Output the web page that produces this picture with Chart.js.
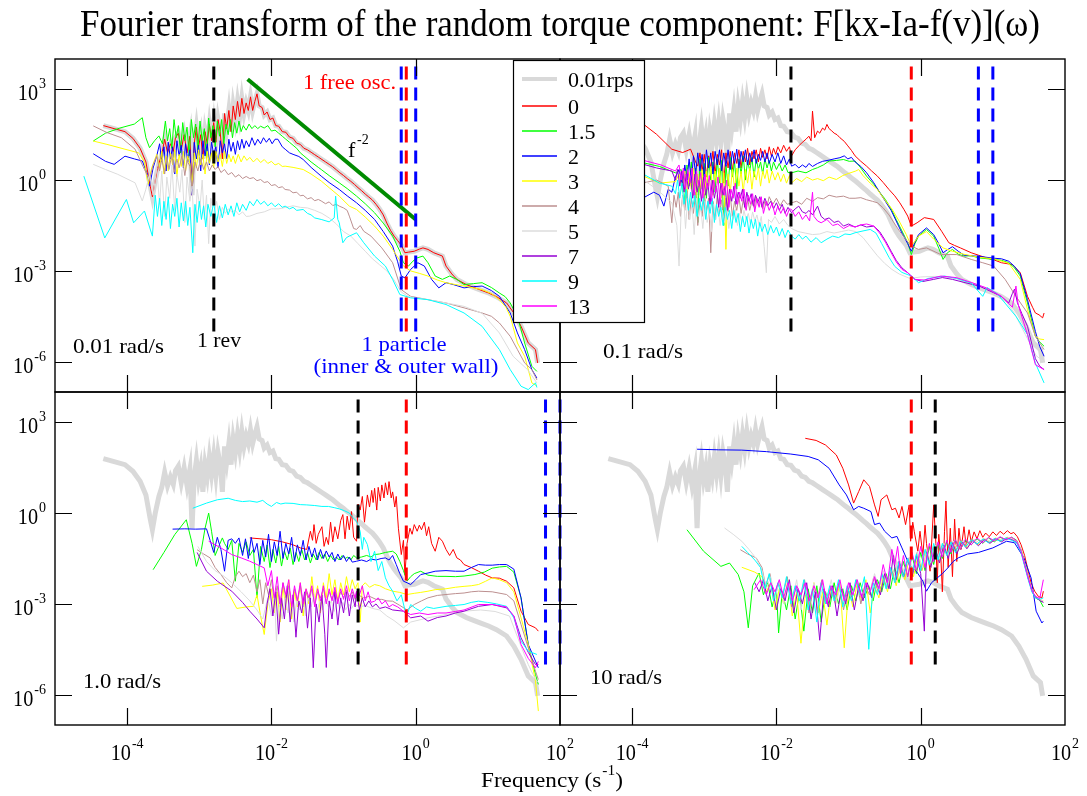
<!DOCTYPE html>
<html>
<head>
<meta charset="utf-8">
<script src="https://cdn.jsdelivr.net/npm/chart.js@4.4.0/dist/chart.umd.min.js"></script>
<style>
body { margin: 0; background: #fff; }
#wrap { position: relative; width: 1087px; height: 796px; }
#wrap canvas { position: absolute; left: 0; top: 0; }
</style>
</head>
<body>
<div id="wrap">
  <canvas id="cTL" width="1087" height="796"></canvas>
  <canvas id="cTR" width="1087" height="796"></canvas>
  <canvas id="cBL" width="1087" height="796"></canvas>
  <canvas id="cBR" width="1087" height="796"></canvas>
</div>
<script>
// axes
const FREQ_MIN = 1e-5, FREQ_MAX = 1e2;
const AMP_MIN = 1e-7, AMP_MAX = 1e4;
const X_TICKS = [1e-4, 1e-2, 1e0];
const X_LABELS = [1e-4, 1e-2, 1e0, 1e2];
const Y_TICKS = [1e3, 1e0, 1e-3, 1e-6];

// series (legend order)
const SERIES = ['0.01rps', '0', '1.5', '2', '3', '4', '5', '7', '9', '13'];
const COLORS = ['#d9d9d9', '#ff0000', '#00ff00', '#0000ff', '#ffff00', '#bc8f8f', '#dcdcdc', '#9400d3', '#00ffff', '#ff00ff'];
const RATES = ['0.01 rad/s', '0.1 rad/s', '1.0 rad/s', '10 rad/s'];

// vertical markers (Hz)
const REV_FREQ = [1.59e-3, 1.59e-2, 0.159, 1.59];
const OSC_FREQ = 0.74;
const WALL_FREQ = [[0.63, 1.0], [6.3, 10], [63, 100], [630, 1000]];
const MARK_SPAN = [1e-5, 1e4];
const F2_LINE = [-2.33, 3.33, 0.0, -1.30];

// curves as log10(freq), log10(amplitude) pairs
// reference curve 0.01 rad/s (also the "0" curve of the first panel)
const ref_curve = [-4.33,1.80, -4.18,1.70, -4.03,1.60, -3.92,1.38, -3.82,1.05, -3.74,0.60, -3.68,-0.20, -3.65,-0.55, -3.61,0.00, -3.56,0.55, -3.52,0.85, -3.48,1.35, -3.44,0.90, -3.40,1.20, -3.36,0.95, -3.33,1.40, -3.29,1.55, -3.25,1.00, -3.21,1.50, -3.17,0.90, -3.13,1.45, -3.10,-0.50, -3.07,1.20, -3.04,1.75, -3.01,1.10, -2.98,1.50, -2.95,0.70, -2.92,1.60, -2.89,1.20, -2.86,1.85, -2.83,1.30, -2.80,1.90, -2.77,1.25, -2.74,2.00, -2.71,1.60, -2.68,0.70, -2.65,2.20, -2.62,1.70, -2.59,2.30, -2.56,1.60, -2.53,2.45, -2.50,2.00, -2.47,2.60, -2.44,2.10, -2.41,2.70, -2.38,2.20, -2.35,2.55, -2.32,2.30, -2.29,2.75, -2.26,2.30, -2.23,2.60, -2.20,2.85, -2.17,2.45, -2.13,2.40, -2.10,2.15, -2.06,2.25, -2.02,2.00, -1.98,2.05, -1.94,1.80, -1.90,1.78, -1.85,1.60, -1.80,1.58, -1.75,1.42, -1.70,1.38, -1.65,1.22, -1.60,1.18, -1.55,1.05, -1.50,1.00, -1.45,0.92, -1.40,0.84, -1.35,0.76, -1.30,0.68, -1.25,0.60, -1.20,0.52, -1.15,0.44, -1.10,0.34, -1.05,0.24, -1.00,0.15, -0.95,0.05, -0.90,-0.04, -0.85,-0.14, -0.80,-0.25, -0.75,-0.35, -0.70,-0.46, -0.65,-0.56, -0.60,-0.66, -0.55,-0.80, -0.50,-0.96, -0.45,-1.15, -0.40,-1.42, -0.35,-1.66, -0.30,-1.85, -0.25,-2.00, -0.20,-2.15, -0.15,-2.40, -0.10,-2.38, -0.02,-2.35, 0.05,-2.28, 0.10,-2.24, 0.17,-2.29, 0.25,-2.40, 0.37,-2.51, 0.42,-2.84, 0.50,-3.10, 0.57,-3.28, 0.70,-3.45, 0.82,-3.56, 0.92,-3.65, 1.01,-3.73, 1.12,-3.85, 1.26,-4.06, 1.36,-4.39, 1.46,-4.83, 1.56,-5.38, 1.66,-5.60, 1.69,-6.04];

// 0.01 rad/s
const tl_green = [-4.47,1.29, -4.30,1.55, -4.10,1.72, -3.90,1.85, -3.79,2.06, -3.74,1.40, -3.69,1.07, -3.62,1.30, -3.56,1.46, -3.51,1.20, -3.47,1.95, -3.44,1.30, -3.41,1.70, -3.38,1.05, -3.35,2.00, -3.32,1.40, -3.29,1.80, -3.26,0.90, -3.23,1.90, -3.20,1.30, -3.17,1.75, -3.14,0.80, -3.11,2.00, -3.08,1.40, -3.05,1.85, -3.02,1.00, -2.99,1.95, -2.96,1.30, -2.93,1.70, -2.90,0.70, -2.87,2.05, -2.84,1.40, -2.81,1.80, -2.78,1.10, -2.75,1.95, -2.72,1.45, -2.69,2.00, -2.66,1.20, -2.63,1.85, -2.60,1.50, -2.57,2.00, -2.54,1.40, -2.51,1.90, -2.48,1.55, -2.45,1.95, -2.42,1.60, -2.39,1.80, -2.35,1.65, -2.31,1.85, -2.27,1.70, -2.23,1.80, -2.19,1.70, -2.15,1.78, -2.10,1.72, -2.05,1.80, -2.00,1.62, -1.95,1.65, -1.90,1.55, -1.85,1.45, -1.80,1.35, -1.75,1.25, -1.70,1.15, -1.65,1.05, -1.60,0.90, -1.55,0.80, -1.45,0.60, -1.35,0.42, -1.31,0.35, -1.20,0.15, -1.06,-0.09, -0.95,-0.28, -0.82,-0.53, -0.70,-0.78, -0.57,-1.08, -0.45,-1.42, -0.32,-1.85, -0.22,-2.35, -0.17,-2.73, -0.10,-2.84, -0.04,-2.68, 0.02,-2.57, 0.10,-2.51, 0.17,-2.73, 0.27,-3.17, 0.37,-3.28, 0.47,-3.17, 0.57,-3.28, 0.67,-3.45, 0.80,-3.42, 0.92,-3.39, 1.05,-3.55, 1.16,-3.73, 1.24,-3.85, 1.31,-4.06, 1.41,-4.50, 1.51,-5.38, 1.61,-6.15, 1.68,-6.32];
const tl_blue = [-4.47,0.87, -4.30,0.62, -4.18,0.52, -4.03,0.79, -3.90,0.70, -3.79,0.63, -3.72,0.20, -3.69,-0.20, -3.64,0.40, -3.59,0.80, -3.55,1.20, -3.52,0.60, -3.49,1.10, -3.46,0.30, -3.43,1.25, -3.40,0.70, -3.37,1.10, -3.34,0.20, -3.31,1.30, -3.28,0.80, -3.25,1.15, -3.22,0.40, -3.19,1.20, -3.16,0.60, -3.13,1.00, -3.10,-0.50, -3.07,1.25, -3.04,0.70, -3.01,1.15, -2.98,0.30, -2.95,1.30, -2.92,0.80, -2.89,1.20, -2.86,0.50, -2.83,1.25, -2.80,0.85, -2.77,1.10, -2.74,0.40, -2.71,1.30, -2.68,0.90, -2.65,1.20, -2.62,0.70, -2.59,1.35, -2.56,0.95, -2.53,1.25, -2.50,0.85, -2.47,1.30, -2.44,1.00, -2.41,1.35, -2.38,1.05, -2.35,1.30, -2.31,1.10, -2.27,1.40, -2.23,1.15, -2.19,1.35, -2.15,1.20, -2.11,1.40, -2.07,1.25, -2.03,1.38, -1.99,1.20, -1.95,1.35, -1.91,1.35, -1.85,1.10, -1.80,1.00, -1.75,0.90, -1.70,0.85, -1.62,0.78, -1.56,0.68, -1.45,0.42, -1.31,0.13, -1.20,-0.08, -1.06,-0.31, -0.95,-0.52, -0.82,-0.75, -0.70,-1.00, -0.57,-1.30, -0.45,-1.70, -0.32,-2.18, -0.25,-2.70, -0.20,-3.17, -0.15,-3.23, -0.07,-2.95, 0.03,-2.73, 0.12,-2.84, 0.22,-3.28, 0.32,-3.56, 0.42,-3.39, 0.52,-3.45, 0.67,-3.56, 0.80,-3.52, 0.92,-3.50, 1.05,-3.65, 1.16,-3.84, 1.31,-4.39, 1.41,-5.05, 1.51,-5.60, 1.61,-6.26, 1.68,-6.54];
const tl_yellow = [-4.47,1.29, -4.28,1.18, -4.03,1.02, -3.84,0.90, -3.76,0.60, -3.71,-0.14, -3.66,0.40, -3.59,0.85, -3.55,0.40, -3.52,0.95, -3.49,0.20, -3.46,0.80, -3.43,0.30, -3.40,0.90, -3.37,0.50, -3.34,1.00, -3.31,0.10, -3.28,0.85, -3.25,0.45, -3.22,0.95, -3.19,0.30, -3.16,0.80, -3.13,0.55, -3.10,-0.20, -3.07,0.90, -3.04,0.40, -3.01,1.00, -2.98,0.50, -2.95,0.85, -2.92,0.20, -2.89,0.95, -2.86,0.55, -2.83,0.90, -2.80,0.40, -2.77,0.95, -2.74,0.60, -2.71,0.85, -2.68,0.45, -2.65,0.95, -2.62,0.55, -2.59,0.85, -2.56,0.60, -2.53,0.80, -2.50,0.55, -2.46,0.85, -2.42,0.60, -2.38,0.80, -2.34,0.65, -2.30,0.75, -2.25,0.60, -2.20,0.72, -2.15,0.58, -2.10,0.68, -2.05,0.55, -2.00,0.62, -1.95,0.50, -1.90,0.55, -1.85,0.45, -1.81,0.46, -1.70,0.42, -1.56,0.35, -1.45,0.20, -1.31,-0.03, -1.20,-0.25, -1.06,-0.53, -0.92,-0.86, -0.82,-0.97, -0.70,-1.22, -0.57,-1.52, -0.45,-1.85, -0.32,-2.29, -0.17,-2.84, -0.07,-3.00, 0.05,-3.08, 0.17,-3.17, 0.30,-3.30, 0.42,-3.39, 0.55,-3.45, 0.67,-3.50, 0.80,-3.56, 0.92,-3.62, 1.05,-3.75, 1.16,-3.95, 1.25,-4.20, 1.31,-4.50, 1.41,-5.38, 1.51,-5.82, 1.61,-6.70, 1.68,-6.80];
const tl_brown = [-4.47,1.79, -4.28,1.57, -4.08,1.40, -3.89,1.02, -3.76,0.35, -3.69,0.02, -3.64,0.50, -3.59,0.80, -3.55,0.30, -3.52,0.70, -3.48,0.20, -3.45,0.75, -3.42,0.35, -3.38,0.85, -3.35,0.25, -3.31,0.70, -3.28,0.40, -3.24,0.80, -3.20,0.15, -3.17,0.65, -3.13,0.45, -3.10,-0.30, -3.06,0.60, -3.02,0.30, -2.98,0.70, -2.94,0.35, -2.90,0.60, -2.86,0.30, -2.82,0.50, -2.78,0.35, -2.74,0.45, -2.70,0.25, -2.65,0.35, -2.60,0.18, -2.55,0.25, -2.50,0.10, -2.45,0.18, -2.40,0.05, -2.35,0.12, -2.30,0.05, -2.25,0.08, -2.20,-0.02, -2.15,0.02, -2.10,-0.08, -2.05,-0.05, -2.00,-0.18, -1.95,-0.15, -1.90,-0.25, -1.85,-0.22, -1.81,-0.31, -1.75,-0.33, -1.70,-0.42, -1.65,-0.40, -1.60,-0.52, -1.56,-0.50, -1.50,-0.62, -1.45,-0.58, -1.40,-0.68, -1.35,-0.64, -1.31,-0.69, -1.25,-0.78, -1.20,-0.72, -1.15,-0.84, -1.10,-0.80, -1.06,-0.86, -1.00,-0.92, -0.95,-1.00, -0.92,-1.19, -0.86,-1.60, -0.82,-1.63, -0.77,-1.50, -0.72,-1.69, -0.62,-1.85, -0.47,-2.24, -0.32,-2.73, -0.20,-3.62, -0.07,-3.84, 0.17,-3.95, 0.42,-4.06, 0.67,-4.22, 0.92,-4.39, 1.05,-4.50, 1.16,-4.72, 1.31,-5.16, 1.41,-5.60, 1.51,-6.04, 1.61,-6.26, 1.68,-6.60];
const tl_lgrey = [-4.47,0.52, -4.30,0.35, -4.13,0.19, -3.89,-0.09, -3.79,-0.69, -3.74,-0.30, -3.69,0.20, -3.64,-0.50, -3.59,0.40, -3.55,-0.80, -3.52,0.30, -3.48,-1.20, -3.45,0.10, -3.41,-0.60, -3.38,0.50, -3.34,-1.00, -3.31,0.20, -3.27,-0.40, -3.24,0.35, -3.20,-1.40, -3.17,0.10, -3.13,-0.70, -3.10,-0.20, -3.06,-2.18, -3.03,-0.30, -2.99,-0.90, -2.96,0.00, -2.93,-1.30, -2.90,-0.50, -2.87,-2.10, -2.84,-0.60, -2.80,-1.20, -2.76,-0.70, -2.72,-1.30, -2.68,-0.90, -2.64,-1.10, -2.60,-0.95, -2.55,-1.05, -2.50,-1.00, -2.45,-1.15, -2.40,-1.05, -2.35,-1.20, -2.30,-1.19, -2.20,-1.10, -2.10,-1.05, -2.00,-0.95, -1.90,-0.95, -1.80,-0.90, -1.70,-0.85, -1.60,-0.90, -1.50,-0.92, -1.40,-1.00, -1.30,-1.10, -1.20,-1.25, -1.10,-1.45, -1.00,-1.70, -0.90,-1.85, -0.80,-2.10, -0.70,-2.35, -0.60,-2.60, -0.50,-2.80, -0.40,-3.00, -0.30,-3.30, -0.20,-3.70, -0.10,-3.85, 0.17,-3.95, 0.67,-4.17, 0.92,-4.40, 1.16,-5.05, 1.35,-5.82, 1.55,-6.26, 1.68,-6.70];
const tl_cyan = [-4.60,0.13, -4.31,-1.91, -4.01,-0.64, -3.91,-1.41, -3.76,-1.02, -3.65,-1.85, -3.61,-0.50, -3.58,-1.20, -3.55,-0.60, -3.52,-1.50, -3.49,-0.70, -3.46,-1.30, -3.43,-0.55, -3.40,-1.60, -3.37,-0.80, -3.34,-1.20, -3.31,-0.60, -3.28,-1.55, -3.25,-0.75, -3.22,-1.35, -3.19,-0.70, -3.16,-1.50, -3.13,-0.90, -3.09,-2.40, -3.06,-0.80, -3.03,-1.40, -3.00,-0.70, -2.97,-1.30, -2.94,-0.85, -2.91,-1.55, -2.88,-0.80, -2.84,-1.20, -2.80,-0.75, -2.76,-1.40, -2.72,-0.85, -2.68,-1.25, -2.64,-0.80, -2.60,-1.15, -2.56,-0.85, -2.52,-1.20, -2.48,-0.75, -2.44,-1.05, -2.40,-0.80, -2.35,-1.00, -2.30,-0.70, -2.25,-0.85, -2.20,-0.64, -2.15,-0.80, -2.10,-0.70, -2.05,-0.85, -2.00,-0.75, -1.95,-0.88, -1.90,-0.78, -1.85,-0.90, -1.81,-0.86, -1.75,-0.95, -1.70,-0.90, -1.65,-1.00, -1.56,-0.97, -1.50,-1.10, -1.45,-1.15, -1.40,-1.25, -1.31,-1.30, -1.20,-1.38, -1.13,-1.25, -1.11,-0.53, -1.08,-1.30, -1.06,-1.41, -1.01,-2.07, -0.96,-1.90, -0.92,-1.85, -0.82,-1.74, -0.72,-2.07, -0.57,-2.51, -0.42,-2.84, -0.32,-3.28, -0.22,-3.78, -0.07,-3.89, 0.17,-3.95, 0.42,-4.11, 0.67,-4.39, 0.92,-4.83, 1.16,-5.60, 1.31,-6.26, 1.46,-6.81, 1.56,-6.92, 1.66,-6.70, 1.68,-6.85];

// 0.1 rad/s
const tr_red = [-4.10,2.00, -3.84,1.84, -3.66,1.51, -3.45,1.02, -3.30,0.91, -3.19,1.02, -3.12,0.60, -3.09,0.46, -3.06,0.90, -3.03,0.30, -3.00,0.85, -2.97,0.10, -2.94,0.80, -2.91,0.40, -2.88,0.95, -2.85,0.20, -2.82,0.85, -2.79,0.50, -2.76,1.00, -2.73,-0.10, -2.70,0.90, -2.67,0.40, -2.64,0.95, -2.61,0.30, -2.58,0.90, -2.55,0.55, -2.52,1.00, -2.49,0.40, -2.46,0.95, -2.43,0.60, -2.40,1.05, -2.37,0.50, -2.34,0.95, -2.31,0.70, -2.28,1.00, -2.25,0.60, -2.22,1.05, -2.19,0.75, -2.16,1.00, -2.13,0.70, -2.10,1.10, -2.07,0.80, -2.04,1.05, -2.01,0.85, -1.98,1.10, -1.94,0.90, -1.90,1.15, -1.86,0.95, -1.82,1.10, -1.79,0.80, -1.74,1.00, -1.69,1.13, -1.64,1.25, -1.59,1.35, -1.55,1.45, -1.52,1.30, -1.50,2.28, -1.47,1.40, -1.43,1.62, -1.40,1.55, -1.36,1.72, -1.33,1.65, -1.30,1.84, -1.27,1.70, -1.24,1.64, -1.20,1.55, -1.16,1.50, -1.12,1.40, -1.06,1.28, -1.01,1.13, -0.96,0.98, -0.91,0.80, -0.83,0.62, -0.75,0.46, -0.68,0.30, -0.60,0.13, -0.52,-0.08, -0.44,-0.31, -0.36,-0.52, -0.29,-0.75, -0.23,-0.98, -0.18,-1.19, -0.13,-1.52, -0.05,-1.41, 0.05,-1.24, 0.18,-1.30, 0.29,-1.69, 0.39,-2.07, 0.47,-2.16, 0.55,-2.24, 0.70,-2.40, 0.80,-2.48, 0.91,-2.57, 1.02,-2.64, 1.12,-2.73, 1.27,-2.79, 1.38,-3.06, 1.48,-3.84, 1.55,-4.20, 1.59,-4.39, 1.64,-4.45, 1.69,-4.55, 1.71,-4.39];
const tr_green = [-4.10,0.60, -3.84,0.57, -3.62,0.45, -3.40,0.24, -3.32,0.35, -3.27,-0.75, -3.24,0.50, -3.21,-0.20, -3.18,0.60, -3.15,-0.50, -3.12,0.40, -3.09,-1.40, -3.06,0.70, -3.03,-0.30, -3.00,0.55, -2.97,-0.60, -2.94,0.75, -2.91,0.00, -2.88,0.60, -2.85,-0.40, -2.82,0.70, -2.79,-0.10, -2.76,0.65, -2.73,-1.50, -2.70,0.50, -2.67,-0.20, -2.64,0.75, -2.61,0.10, -2.58,0.60, -2.55,-0.30, -2.52,0.70, -2.49,0.20, -2.46,0.80, -2.43,0.00, -2.40,0.65, -2.37,0.30, -2.34,0.75, -2.31,0.10, -2.28,0.70, -2.25,0.35, -2.22,0.60, -2.19,0.20, -2.16,0.70, -2.13,0.40, -2.10,0.65, -2.07,0.30, -2.04,0.60, -2.00,0.35, -1.96,0.55, -1.92,0.30, -1.88,0.50, -1.84,0.25, -1.79,0.24, -1.70,0.30, -1.59,0.24, -1.50,0.35, -1.43,0.41, -1.35,0.50, -1.27,0.63, -1.17,0.65, -1.07,0.68, -0.99,0.62, -0.91,0.63, -0.83,0.40, -0.75,0.13, -0.65,-0.14, -0.57,-0.40, -0.49,-0.64, -0.41,-0.95, -0.34,-1.30, -0.26,-1.68, -0.18,-2.07, -0.13,-2.46, -0.08,-2.10, -0.03,-1.85, 0.08,-1.63, 0.18,-1.85, 0.25,-2.25, 0.31,-2.62, 0.37,-2.40, 0.44,-2.29, 0.52,-2.45, 0.60,-2.51, 0.70,-2.50, 0.81,-2.57, 1.01,-2.62, 1.12,-2.65, 1.22,-2.73, 1.30,-2.90, 1.38,-3.17, 1.48,-4.06, 1.59,-5.16, 1.65,-5.35, 1.71,-5.49];
const tr_blue = [-4.10,-0.50, -3.84,-0.58, -3.70,-0.40, -3.62,-0.50, -3.56,-0.86, -3.50,-0.30, -3.45,-0.40, -3.40,0.10, -3.35,0.35, -3.30,-0.20, -3.27,0.50, -3.24,0.00, -3.21,0.70, -3.18,-0.10, -3.15,0.80, -3.12,0.20, -3.09,0.90, -3.06,0.30, -3.03,0.85, -3.00,0.10, -2.97,1.00, -2.94,0.40, -2.91,0.90, -2.88,0.20, -2.85,0.95, -2.82,0.50, -2.79,1.00, -2.76,0.30, -2.73,0.90, -2.70,0.45, -2.67,1.00, -2.64,0.35, -2.61,0.95, -2.58,0.55, -2.55,1.02, -2.52,0.40, -2.49,0.95, -2.46,0.60, -2.43,1.00, -2.40,0.50, -2.37,0.90, -2.34,0.60, -2.31,1.00, -2.28,0.55, -2.25,0.85, -2.22,0.65, -2.19,0.95, -2.16,0.60, -2.13,0.90, -2.10,0.55, -2.06,0.85, -2.02,0.60, -1.98,0.90, -1.94,0.55, -1.90,0.80, -1.86,0.50, -1.82,0.70, -1.79,0.46, -1.74,0.52, -1.69,0.40, -1.64,0.50, -1.59,0.42, -1.55,0.55, -1.50,0.45, -1.43,0.55, -1.36,0.62, -1.27,0.66, -1.20,0.70, -1.12,0.74, -1.06,0.80, -1.01,0.70, -0.96,0.75, -0.91,0.60, -0.83,0.45, -0.75,0.24, -0.65,-0.09, -0.57,-0.40, -0.49,-0.70, -0.41,-1.00, -0.34,-1.35, -0.26,-1.75, -0.18,-2.10, -0.13,-2.35, -0.08,-2.05, -0.03,-1.80, 0.08,-1.58, 0.18,-1.80, 0.25,-2.10, 0.31,-2.40, 0.37,-2.30, 0.44,-2.20, 0.52,-2.35, 0.60,-2.48, 0.70,-2.50, 0.81,-2.52, 1.01,-2.58, 1.12,-2.60, 1.22,-2.68, 1.30,-2.85, 1.38,-3.10, 1.48,-3.95, 1.59,-5.00, 1.65,-5.50, 1.71,-5.82];
const tr_yellow = [-4.10,0.25, -3.84,0.13, -3.62,-0.10, -3.40,-0.05, -3.35,0.20, -3.30,-0.40, -3.27,0.30, -3.24,-0.60, -3.21,0.25, -3.18,-0.30, -3.15,0.40, -3.12,-0.80, -3.09,0.20, -3.06,-0.40, -3.03,0.35, -3.00,-0.70, -2.97,0.30, -2.94,-0.20, -2.91,0.45, -2.88,-0.50, -2.85,0.30, -2.82,-0.10, -2.79,0.40, -2.76,-0.60, -2.73,0.25, -2.70,-2.29, -2.67,0.20, -2.64,-0.40, -2.61,0.35, -2.58,-0.30, -2.55,0.40, -2.52,-0.20, -2.49,0.30, -2.46,-0.40, -2.43,0.35, -2.40,-0.10, -2.37,0.40, -2.34,-0.30, -2.31,0.30, -2.28,0.00, -2.25,0.40, -2.22,-0.20, -2.19,0.30, -2.16,0.05, -2.13,0.35, -2.10,-0.10, -2.06,0.30, -2.02,0.00, -1.98,0.25, -1.94,-0.05, -1.90,0.20, -1.86,-0.10, -1.82,0.15, -1.79,-0.09, -1.72,0.05, -1.65,-0.05, -1.58,0.10, -1.50,0.00, -1.43,0.05, -1.35,-0.02, -1.27,0.10, -1.17,0.02, -1.08,0.15, -1.00,0.22, -0.90,0.30, -0.86,0.35, -0.80,0.15, -0.70,-0.10, -0.60,-0.31, -0.50,-0.65, -0.40,-0.95, -0.30,-1.35, -0.20,-1.80, -0.13,-2.18, -0.03,-1.85, 0.08,-1.70, 0.18,-1.95, 0.31,-2.24, 0.44,-2.35, 0.60,-2.45, 0.81,-2.55, 1.01,-2.60, 1.22,-2.75, 1.38,-3.28, 1.48,-4.28, 1.59,-5.16, 1.65,-5.25, 1.71,-5.27];
const tr_brown = [-4.10,-0.05, -3.84,-0.09, -3.66,0.00, -3.50,-0.20, -3.45,-1.41, -3.42,-0.50, -3.39,-0.90, -3.36,-0.40, -3.33,-1.20, -3.30,-0.50, -3.27,-1.00, -3.24,-0.35, -3.21,-1.30, -3.18,-0.60, -3.15,-1.10, -3.12,-0.40, -3.09,-1.50, -3.06,-0.70, -3.03,-1.20, -3.00,-0.45, -2.97,-1.00, -2.94,-0.60, -2.91,-2.40, -2.88,-0.70, -2.85,-1.30, -2.82,-0.50, -2.79,-1.10, -2.76,-0.65, -2.73,-1.40, -2.70,-0.60, -2.67,-1.05, -2.64,-0.50, -2.61,-1.20, -2.58,-0.70, -2.55,-1.00, -2.52,-0.55, -2.49,-1.10, -2.46,-0.65, -2.43,-0.95, -2.40,-0.60, -2.37,-1.00, -2.34,-0.70, -2.31,-0.90, -2.28,-0.55, -2.25,-0.85, -2.22,-0.60, -2.19,-0.95, -2.16,-0.70, -2.13,-0.85, -2.10,-0.55, -2.05,-0.80, -2.00,-0.60, -1.95,-0.85, -1.90,-0.65, -1.85,-0.80, -1.79,-0.75, -1.72,-0.70, -1.65,-0.80, -1.58,-0.60, -1.50,-0.70, -1.43,-0.58, -1.35,-0.62, -1.27,-0.50, -1.17,-0.56, -1.07,-0.53, -0.99,-0.60, -0.91,-0.60, -0.83,-0.58, -0.75,-0.65, -0.67,-0.70, -0.60,-0.75, -0.52,-0.92, -0.44,-1.15, -0.36,-1.45, -0.29,-1.70, -0.20,-1.98, -0.13,-2.18, -0.03,-2.29, 0.08,-2.24, 0.28,-2.46, 0.50,-2.46, 0.70,-2.62, 0.86,-2.73, 1.01,-2.84, 1.17,-3.28, 1.32,-3.84, 1.48,-4.39, 1.59,-5.16, 1.71,-5.60];
const tr_lgrey = [-4.10,0.00, -3.84,0.00, -3.66,-0.30, -3.45,-0.75, -3.38,-1.50, -3.35,-2.84, -3.32,-1.00, -3.29,-0.40, -3.26,-1.60, -3.23,-0.60, -3.20,-1.30, -3.17,-0.80, -3.14,-1.80, -3.11,-0.60, -3.08,-1.20, -3.05,-0.90, -3.02,-1.60, -2.99,-0.70, -2.96,-1.40, -2.93,-1.00, -2.90,-1.70, -2.87,-0.80, -2.84,-1.30, -2.81,-0.90, -2.78,-1.50, -2.75,-1.00, -2.72,-1.40, -2.69,-0.90, -2.66,-1.60, -2.63,-1.10, -2.60,-1.30, -2.57,-0.95, -2.54,-1.50, -2.51,-1.10, -2.48,-1.40, -2.45,-1.00, -2.42,-1.30, -2.39,-1.10, -2.36,-1.45, -2.33,-1.05, -2.30,-1.35, -2.27,-1.15, -2.24,-1.50, -2.21,-1.20, -2.17,-2.20, -2.14,-3.06, -2.11,-1.30, -2.07,-1.40, -2.02,-1.20, -1.96,-1.45, -1.90,-1.30, -1.84,-1.50, -1.79,-1.60, -1.70,-1.70, -1.60,-1.75, -1.50,-1.80, -1.40,-1.78, -1.30,-1.70, -1.20,-1.75, -1.10,-1.70, -1.00,-1.65, -0.90,-1.70, -0.80,-1.90, -0.70,-2.20, -0.60,-2.50, -0.50,-2.75, -0.40,-2.95, -0.30,-3.10, -0.15,-3.25, 0.00,-3.20, 0.20,-3.18, 0.40,-3.22, 0.60,-3.30, 0.80,-3.50, 1.00,-3.70, 1.15,-3.90, 1.30,-4.40, 1.45,-5.10, 1.60,-5.80, 1.71,-6.00];
const tr_purple = [-4.10,0.55, -3.84,0.52, -3.66,0.40, -3.45,0.30, -3.40,0.00, -3.37,0.35, -3.34,-0.20, -3.31,0.30, -3.28,-0.40, -3.25,0.20, -3.22,-0.30, -3.19,0.10, -3.16,-0.60, -3.13,0.20, -3.10,-0.40, -3.07,0.00, -3.04,-0.70, -3.01,0.10, -2.98,-0.50, -2.95,-0.10, -2.92,-0.80, -2.89,0.00, -2.86,-0.60, -2.83,-0.20, -2.80,-0.90, -2.77,-0.10, -2.74,-0.50, -2.71,-0.20, -2.68,-1.00, -2.65,-0.30, -2.62,-0.70, -2.59,-0.20, -2.56,-0.80, -2.53,-0.40, -2.50,-0.60, -2.47,-0.30, -2.44,-0.90, -2.41,-0.40, -2.38,-0.70, -2.35,-0.45, -2.32,-0.85, -2.29,-0.50, -2.26,-0.75, -2.23,-0.55, -2.20,-0.90, -2.16,-0.60, -2.12,-0.85, -2.08,-0.70, -2.04,-0.95, -2.00,-0.75, -1.96,-1.00, -1.92,-0.80, -1.88,-1.10, -1.84,-0.90, -1.79,-1.08, -1.74,-0.95, -1.69,-0.86, -1.64,-1.05, -1.59,-1.10, -1.55,-1.00, -1.50,-1.15, -1.43,-0.86, -1.38,-1.20, -1.33,-1.30, -1.27,-1.25, -1.20,-1.40, -1.14,-1.35, -1.07,-1.52, -1.00,-1.45, -0.91,-1.55, -0.83,-1.48, -0.75,-1.55, -0.65,-1.52, -0.57,-1.70, -0.49,-2.00, -0.41,-2.35, -0.34,-2.65, -0.26,-2.90, -0.18,-3.06, -0.08,-3.28, 0.03,-3.35, 0.18,-3.28, 0.30,-3.22, 0.44,-3.28, 0.60,-3.38, 0.81,-3.50, 1.01,-3.72, 1.12,-3.85, 1.22,-4.06, 1.27,-3.75, 1.30,-3.60, 1.34,-4.05, 1.40,-4.40, 1.48,-4.83, 1.59,-5.90, 1.65,-6.15, 1.71,-6.26];
const tr_cyan = [-4.10,0.25, -3.84,0.19, -3.62,-0.10, -3.45,-0.20, -3.40,-0.45, -3.37,0.00, -3.34,-0.60, -3.31,-0.10, -3.28,-0.80, -3.25,-0.30, -3.22,-1.00, -3.19,-0.40, -3.16,-0.90, -3.13,-0.50, -3.10,-1.20, -3.07,-0.60, -3.04,-1.00, -3.01,-0.55, -2.98,-1.30, -2.95,-0.70, -2.92,-1.10, -2.89,-0.60, -2.86,-1.40, -2.83,-0.80, -2.80,-1.20, -2.77,-0.90, -2.74,-1.50, -2.71,-0.90, -2.68,-1.30, -2.65,-1.00, -2.62,-1.60, -2.59,-1.00, -2.56,-1.40, -2.53,-1.10, -2.50,-1.70, -2.47,-1.20, -2.44,-1.55, -2.41,-1.20, -2.38,-1.75, -2.35,-1.30, -2.32,-1.60, -2.29,-1.30, -2.26,-1.85, -2.23,-1.40, -2.20,-1.70, -2.16,-1.45, -2.12,-1.80, -2.08,-1.50, -2.04,-1.75, -2.00,-1.55, -1.96,-1.85, -1.92,-1.60, -1.88,-1.90, -1.84,-1.65, -1.79,-1.85, -1.74,-1.95, -1.69,-1.80, -1.64,-1.95, -1.59,-1.85, -1.52,-2.05, -1.45,-1.90, -1.38,-2.07, -1.30,-1.95, -1.22,-1.85, -1.14,-1.90, -1.05,-1.78, -0.98,-1.80, -0.91,-1.74, -0.80,-1.68, -0.70,-1.63, -0.62,-1.75, -0.54,-2.10, -0.44,-2.55, -0.36,-2.85, -0.26,-3.05, -0.13,-3.17, -0.03,-3.39, 0.10,-3.25, 0.33,-3.17, 0.50,-3.25, 0.70,-3.40, 0.86,-3.84, 0.92,-3.55, 1.06,-3.75, 1.32,-4.50, 1.48,-5.10, 1.59,-6.05, 1.71,-6.70];
const tr_magenta = [-4.10,0.70, -3.84,0.65, -3.60,0.50, -3.40,0.30, -3.35,0.50, -3.32,0.00, -3.29,0.40, -3.26,-0.30, -3.23,0.35, -3.20,-0.10, -3.17,0.40, -3.14,-0.50, -3.11,0.30, -3.08,-0.20, -3.05,0.25, -3.02,-0.60, -2.99,0.20, -2.96,-0.30, -2.93,0.15, -2.90,-0.70, -2.87,0.00, -2.84,-0.40, -2.81,0.10, -2.78,-0.80, -2.75,-0.10, -2.72,-0.50, -2.69,0.00, -2.66,-0.90, -2.63,-0.30, -2.60,-0.60, -2.57,-0.10, -2.54,-0.80, -2.51,-0.40, -2.48,-0.70, -2.45,-0.30, -2.42,-1.00, -2.39,-0.50, -2.36,-0.80, -2.33,-0.45, -2.30,-1.05, -2.27,-0.60, -2.24,-0.90, -2.21,-0.55, -2.18,-1.10, -2.14,-0.70, -2.10,-1.00, -2.06,-0.75, -2.02,-1.15, -1.98,-0.85, -1.94,-1.10, -1.90,-0.90, -1.86,-1.20, -1.82,-0.95, -1.79,-0.97, -1.74,-1.20, -1.69,-1.05, -1.64,-1.30, -1.59,-1.15, -1.54,-1.35, -1.50,-0.40, -1.48,-1.20, -1.43,-1.35, -1.38,-1.41, -1.30,-1.30, -1.22,-1.50, -1.15,-1.45, -1.07,-1.60, -0.99,-1.50, -0.91,-1.55, -0.83,-1.48, -0.75,-1.45, -0.65,-1.52, -0.57,-1.75, -0.49,-2.05, -0.41,-2.40, -0.34,-2.70, -0.26,-2.95, -0.18,-3.06, -0.08,-3.28, 0.05,-3.30, 0.28,-3.17, 0.49,-3.22, 0.70,-3.38, 0.91,-3.56, 1.12,-3.84, 1.27,-4.20, 1.32,-3.50, 1.35,-4.10, 1.40,-4.50, 1.48,-5.10, 1.59,-6.10, 1.71,-6.26];

// 1.0 rad/s
const bl_red = [-2.30,-0.82, -2.00,-0.88, -1.85,-0.95, -1.71,-1.04, -1.60,-1.15, -1.51,-1.20, -1.46,-0.60, -1.43,-0.90, -1.41,-0.38, -1.38,-1.00, -1.35,-0.70, -1.30,-0.45, -1.27,-1.10, -1.24,-0.80, -1.21,-1.04, -1.18,-0.30, -1.15,-0.95, -1.12,-0.45, -1.08,-0.85, -1.04,-0.25, -1.01,-0.05, -0.98,-0.85, -0.95,-0.10, -0.92,-0.55, -0.89,0.05, -0.86,-0.80, -0.82,-0.93, -0.80,0.30, -0.77,0.10, -0.74,0.55, -0.71,-0.30, -0.67,0.60, -0.64,0.20, -0.61,0.75, -0.59,0.35, -0.57,0.82, -0.54,0.10, -0.52,0.85, -0.49,0.40, -0.47,0.93, -0.44,0.50, -0.42,1.00, -0.39,0.60, -0.37,1.04, -0.34,0.50, -0.32,0.70, -0.29,0.20, -0.27,0.55, -0.24,-0.50, -0.20,-1.37, -0.17,-0.90, -0.15,-2.03, -0.12,-1.00, -0.08,-0.50, -0.05,-0.70, -0.02,-0.38, 0.02,-0.60, 0.05,-0.40, 0.08,-0.55, 0.12,-0.30, 0.15,-0.75, 0.18,-0.45, 0.22,-1.00, 0.27,-1.26, 0.32,-0.80, 0.37,-0.93, 0.42,-1.20, 0.47,-1.40, 0.52,-1.20, 0.57,-1.48, 0.62,-1.55, 0.67,-1.70, 0.77,-1.80, 0.87,-1.92, 0.97,-2.05, 1.06,-2.14, 1.16,-2.15, 1.26,-2.25, 1.36,-2.47, 1.46,-3.24, 1.56,-3.68, 1.66,-3.79, 1.70,-3.90];
const bl_green = [-3.64,-1.87, -3.49,-1.30, -3.34,-0.71, -3.18,-0.22, -3.10,-1.00, -3.04,-1.76, -2.97,-1.20, -2.92,-0.50, -2.87,0.00, -2.83,-0.60, -2.78,-1.40, -2.73,-1.10, -2.68,-0.82, -2.65,-1.00, -2.60,-1.20, -2.55,-0.90, -2.50,-2.25, -2.45,-1.00, -2.40,-1.30, -2.35,-0.95, -2.30,-1.40, -2.25,-1.20, -2.20,-2.80, -2.15,-1.10, -2.10,-1.60, -2.06,-1.05, -2.02,-1.80, -1.98,-1.20, -1.94,-1.65, -1.90,-1.10, -1.86,-1.75, -1.82,-1.25, -1.78,-1.55, -1.74,-1.15, -1.70,-1.70, -1.66,-1.30, -1.62,-1.60, -1.58,-1.20, -1.54,-1.55, -1.50,-1.30, -1.46,-1.65, -1.42,-1.35, -1.38,-1.55, -1.34,-1.30, -1.30,-1.50, -1.26,-1.35, -1.22,-1.60, -1.18,-1.40, -1.14,-1.55, -1.10,-1.45, -1.06,-1.55, -1.02,-1.40, -0.98,-1.50, -0.94,-1.45, -0.90,-1.55, -0.86,-1.40, -0.82,-1.48, -0.75,-1.45, -0.68,-1.40, -0.62,-1.45, -0.57,-1.37, -0.50,-1.35, -0.42,-1.30, -0.37,-1.28, -0.32,-1.26, -0.27,-1.35, -0.22,-1.60, -0.17,-1.90, -0.12,-2.25, -0.07,-2.10, -0.02,-2.00, 0.07,-1.92, 0.17,-2.05, 0.30,-2.09, 0.42,-2.09, 0.55,-2.10, 0.67,-2.08, 0.82,-2.03, 0.95,-1.95, 1.06,-1.82, 1.16,-1.78, 1.26,-1.76, 1.36,-1.95, 1.46,-2.80, 1.56,-4.34, 1.66,-5.33, 1.70,-5.66];
const bl_blue = [-3.37,-0.53, -3.20,-0.52, -3.05,-0.53, -2.90,-0.52, -2.85,-0.90, -2.80,-1.30, -2.75,-0.80, -2.70,-1.20, -2.65,-1.92, -2.60,-0.90, -2.55,-0.85, -2.50,-1.00, -2.45,-0.82, -2.40,-1.40, -2.36,-0.85, -2.32,-1.50, -2.28,-0.80, -2.24,-1.30, -2.20,-1.00, -2.16,-1.70, -2.12,-0.90, -2.08,-1.45, -2.04,-0.70, -2.00,-1.60, -1.96,-0.95, -1.92,-1.40, -1.88,-0.60, -1.84,-1.50, -1.80,-1.00, -1.76,-1.35, -1.72,-0.80, -1.68,-1.60, -1.64,-1.05, -1.60,-1.40, -1.56,-0.90, -1.52,-1.55, -1.48,-1.10, -1.44,-1.45, -1.40,-1.15, -1.36,-1.55, -1.32,-1.20, -1.28,-1.50, -1.24,-1.25, -1.20,-1.45, -1.16,-1.30, -1.12,-1.60, -1.08,-1.35, -1.04,-1.55, -1.00,-1.40, -0.96,-1.60, -0.92,-1.45, -0.88,-1.62, -0.82,-1.59, -0.75,-1.55, -0.68,-1.60, -0.62,-1.52, -0.55,-1.55, -0.48,-1.50, -0.42,-1.48, -0.37,-1.55, -0.32,-1.40, -0.27,-1.70, -0.22,-2.00, -0.17,-2.25, -0.12,-2.30, -0.07,-2.36, 0.00,-2.20, 0.07,-2.03, 0.17,-1.98, 0.27,-1.92, 0.42,-1.90, 0.55,-1.92, 0.67,-1.92, 0.77,-1.80, 0.87,-1.70, 0.97,-1.72, 1.06,-1.72, 1.16,-1.70, 1.26,-1.70, 1.36,-1.85, 1.46,-2.80, 1.56,-4.34, 1.66,-4.89, 1.70,-5.11];
const bl_yellow = [-2.96,-2.42, -2.82,-2.38, -2.67,-2.31, -2.48,-3.15, -2.35,-3.10, -2.25,-3.08, -2.20,-2.70, -2.15,-3.40, -2.10,-4.01, -2.05,-3.00, -2.00,-2.50, -1.96,-3.30, -1.92,-2.60, -1.88,-3.60, -1.84,-2.40, -1.80,-3.20, -1.76,-2.20, -1.72,-3.50, -1.68,-2.60, -1.64,-3.10, -1.60,-2.30, -1.56,-3.40, -1.52,-2.50, -1.48,-3.00, -1.44,-2.10, -1.40,-2.90, -1.36,-2.40, -1.32,-3.30, -1.28,-2.30, -1.24,-2.80, -1.20,-2.00, -1.16,-2.70, -1.12,-2.20, -1.08,-2.90, -1.04,-2.30, -1.00,-2.70, -0.96,-2.10, -0.92,-2.60, -0.88,-2.20, -0.84,-2.50, -0.80,-2.30, -0.77,-3.60, -0.74,-2.40, -0.70,-2.30, -0.64,-2.45, -0.57,-2.36, -0.50,-2.40, -0.42,-2.50, -0.32,-2.58, -0.22,-2.62, -0.12,-2.69, -0.02,-2.65, 0.07,-2.62, 0.17,-2.58, 0.27,-2.53, 0.42,-2.50, 0.55,-2.45, 0.67,-2.42, 0.77,-2.40, 0.87,-2.36, 0.97,-2.25, 1.06,-2.14, 1.16,-2.20, 1.26,-2.30, 1.36,-2.60, 1.46,-3.46, 1.56,-4.34, 1.66,-5.55, 1.70,-6.54];
const bl_brown = [-3.03,-1.21, -2.94,-1.35, -2.85,-1.48, -2.78,-1.80, -2.70,-2.03, -2.62,-2.30, -2.55,-2.47, -2.50,-2.10, -2.45,-1.92, -2.40,-2.10, -2.35,-2.00, -2.30,-2.30, -2.25,-2.05, -2.20,-2.60, -2.16,-2.20, -2.12,-3.00, -2.08,-2.30, -2.04,-2.70, -2.00,-2.20, -1.96,-2.90, -1.92,-2.40, -1.88,-3.10, -1.84,-2.30, -1.80,-2.80, -1.76,-2.40, -1.72,-3.00, -1.68,-2.50, -1.64,-2.90, -1.60,-2.40, -1.56,-3.10, -1.52,-2.60, -1.48,-2.90, -1.44,-2.50, -1.40,-3.00, -1.36,-2.60, -1.32,-2.80, -1.28,-2.50, -1.24,-2.95, -1.20,-2.60, -1.16,-2.85, -1.12,-2.55, -1.08,-2.90, -1.04,-2.60, -1.00,-2.80, -0.96,-2.55, -0.92,-2.75, -0.88,-2.60, -0.84,-2.85, -0.80,-2.70, -0.72,-2.80, -0.64,-2.75, -0.55,-2.85, -0.47,-2.85, -0.40,-2.90, -0.32,-2.91, -0.22,-3.05, -0.12,-3.20, -0.02,-3.02, 0.08,-2.90, 0.17,-2.80, 0.30,-2.72, 0.42,-2.69, 0.55,-2.66, 0.67,-2.64, 0.77,-2.60, 0.87,-2.58, 1.06,-2.60, 1.26,-2.69, 1.36,-2.90, 1.46,-3.68, 1.56,-4.45, 1.66,-5.22, 1.70,-5.50];
const bl_lgrey = [-3.02,-1.10, -2.90,-1.60, -2.78,-1.90, -2.65,-2.10, -2.55,-2.30, -2.42,-2.60, -2.30,-2.90, -2.20,-3.20, -2.12,-3.50, -2.05,-2.80, -2.00,-3.40, -1.96,-2.70, -1.93,-4.23, -1.89,-3.00, -1.85,-3.50, -1.81,-2.80, -1.77,-3.30, -1.73,-2.70, -1.69,-3.60, -1.65,-2.90, -1.61,-3.20, -1.57,-2.70, -1.53,-3.40, -1.49,-2.80, -1.45,-3.10, -1.41,-2.70, -1.37,-3.30, -1.33,-2.90, -1.29,-3.20, -1.25,-2.80, -1.21,-3.10, -1.17,-2.90, -1.13,-3.25, -1.09,-2.90, -1.05,-3.15, -1.01,-2.95, -0.97,-3.20, -0.93,-3.00, -0.89,-3.15, -0.85,-3.00, -0.78,-3.10, -0.70,-3.05, -0.60,-3.15, -0.50,-3.20, -0.40,-3.40, -0.30,-3.55, -0.17,-3.79, -0.07,-3.60, 0.17,-3.46, 0.42,-3.35, 0.67,-3.24, 0.90,-3.20, 1.10,-3.25, 1.30,-3.40, 1.46,-4.40, 1.56,-5.00, 1.66,-5.50, 1.70,-5.60];
const bl_purple = [-3.03,-1.30, -2.90,-1.92, -2.75,-2.25, -2.55,-2.58, -2.40,-2.95, -2.30,-3.24, -2.20,-3.50, -2.10,-3.79, -2.06,-3.00, -2.02,-2.50, -1.98,-3.40, -1.94,-2.60, -1.90,-4.00, -1.86,-2.80, -1.82,-3.50, -1.78,-2.40, -1.74,-3.60, -1.70,-2.70, -1.66,-4.10, -1.62,-2.90, -1.58,-3.30, -1.54,-2.60, -1.50,-3.80, -1.46,-2.80, -1.42,-5.11, -1.38,-3.00, -1.34,-3.60, -1.30,-2.70, -1.26,-4.00, -1.24,-5.10, -1.20,-2.90, -1.16,-3.50, -1.12,-2.60, -1.08,-3.70, -1.04,-2.80, -1.00,-3.30, -0.96,-2.60, -0.92,-3.40, -0.88,-2.70, -0.84,-3.10, -0.82,-2.58, -0.78,-3.20, -0.74,-2.80, -0.70,-3.10, -0.65,-2.90, -0.60,-3.10, -0.55,-3.00, -0.50,-3.15, -0.42,-3.10, -0.32,-3.20, -0.17,-3.24, -0.07,-3.46, 0.07,-3.40, 0.17,-3.57, 0.30,-3.45, 0.42,-3.40, 0.55,-3.30, 0.67,-3.24, 0.87,-3.08, 1.06,-3.02, 1.26,-3.13, 1.36,-3.40, 1.46,-4.12, 1.56,-4.60, 1.66,-5.00, 1.70,-5.00];
const bl_cyan = [-3.09,0.16, -2.90,0.33, -2.75,0.44, -2.60,0.49, -2.50,0.42, -2.40,0.38, -2.30,0.40, -2.20,0.36, -2.12,0.42, -2.06,0.30, -2.00,0.22, -1.93,0.35, -1.87,0.30, -1.81,0.33, -1.70,0.32, -1.60,0.28, -1.51,0.27, -1.40,0.25, -1.30,0.22, -1.21,0.22, -1.13,0.18, -1.06,0.14, -0.99,0.08, -0.92,0.00, -0.87,-0.15, -0.82,-0.27, -0.77,-0.60, -0.74,-1.20, -0.72,-0.80, -0.67,-1.04, -0.62,-1.60, -0.57,-1.26, -0.52,-1.90, -0.47,-1.60, -0.42,-2.14, -0.37,-2.40, -0.32,-2.58, -0.26,-2.90, -0.20,-2.70, -0.15,-3.20, -0.12,-3.35, -0.07,-3.02, 0.00,-3.15, 0.07,-3.24, 0.15,-3.10, 0.25,-3.15, 0.42,-3.08, 0.55,-3.05, 0.67,-3.02, 0.77,-2.95, 0.87,-2.91, 1.00,-2.95, 1.12,-3.00, 1.26,-3.08, 1.36,-3.46, 1.46,-4.23, 1.56,-4.56, 1.68,-4.67];
const bl_magenta = [-2.87,-0.93, -2.70,-1.15, -2.55,-1.37, -2.42,-1.48, -2.30,-1.59, -2.20,-1.70, -2.10,-1.81, -2.05,-2.40, -2.00,-1.90, -1.96,-2.80, -1.92,-2.10, -1.88,-3.00, -1.84,-2.30, -1.80,-2.70, -1.76,-2.20, -1.72,-3.10, -1.68,-2.40, -1.64,-2.90, -1.60,-2.30, -1.56,-3.00, -1.52,-2.50, -1.48,-2.80, -1.44,-2.40, -1.40,-3.10, -1.36,-2.50, -1.32,-2.90, -1.28,-2.40, -1.24,-3.00, -1.20,-2.50, -1.16,-2.90, -1.12,-2.45, -1.08,-3.00, -1.04,-2.50, -1.00,-2.85, -0.96,-2.40, -0.92,-2.90, -0.88,-2.50, -0.84,-2.80, -0.82,-2.58, -0.78,-2.70, -0.74,-2.40, -0.70,-2.90, -0.66,-2.60, -0.62,-2.95, -0.57,-2.91, -0.52,-2.80, -0.47,-3.00, -0.42,-2.90, -0.37,-3.10, -0.32,-3.02, -0.25,-3.10, -0.17,-3.24, -0.07,-3.35, 0.05,-3.30, 0.17,-3.35, 0.30,-3.30, 0.42,-3.30, 0.55,-3.25, 0.67,-3.20, 0.87,-3.02, 1.06,-3.02, 1.26,-3.10, 1.36,-3.40, 1.46,-4.34, 1.56,-4.80, 1.66,-5.11, 1.70,-4.90];

// 10 rad/s
const br_red = [-1.60,2.47, -1.45,2.40, -1.32,2.25, -1.17,1.92, -1.08,1.48, -1.00,0.93, -0.93,0.33, -0.86,0.71, -0.79,1.10, -0.71,0.88, -0.64,0.27, -0.59,-0.11, -0.55,0.44, -0.47,0.60, -0.40,0.11, -0.35,0.16, -0.30,-0.16, -0.26,0.22, -0.21,-0.38, -0.16,0.27, -0.14,-0.93, -0.11,-0.30, -0.09,-0.60, -0.04,-1.26, -0.01,-0.60, 0.03,-1.40, 0.06,-0.40, 0.08,-1.00, 0.13,-1.92, 0.18,0.27, 0.21,-1.00, 0.23,-2.30, 0.25,-0.70, 0.28,-1.50, 0.30,-2.60, 0.33,-0.60, 0.35,0.40, 0.38,-1.80, 0.41,-0.50, 0.44,-2.10, 0.47,-0.20, 0.50,-1.60, 0.53,-0.50, 0.56,-1.20, 0.60,-0.45, 0.63,-1.10, 0.67,-0.55, 0.70,-0.95, 0.74,-0.62, 0.78,-0.85, 0.82,-0.58, 0.86,-0.80, 0.90,-0.66, 0.95,-0.78, 1.00,-0.62, 1.05,-0.74, 1.10,-0.60, 1.15,-0.70, 1.20,-0.58, 1.25,-0.68, 1.29,-0.64, 1.34,-0.78, 1.39,-1.04, 1.44,-1.40, 1.48,-1.81, 1.53,-2.30, 1.58,-2.58, 1.63,-2.75, 1.68,-2.80, 1.70,-2.58];
const br_green = [-3.24,-0.55, -3.01,-1.26, -2.77,-1.76, -2.65,-1.65, -2.53,-2.03, -2.45,-2.60, -2.39,-3.79, -2.33,-2.40, -2.24,-1.98, -2.18,-2.70, -2.12,-2.30, -2.06,-3.10, -2.00,-2.50, -1.97,-3.96, -1.92,-2.60, -1.86,-3.20, -1.80,-2.40, -1.74,-3.50, -1.68,-2.60, -1.62,-3.90, -1.56,-2.50, -1.50,-3.30, -1.44,-2.40, -1.38,-3.60, -1.32,-2.60, -1.26,-3.10, -1.20,-2.30, -1.14,-3.00, -1.08,-2.50, -1.02,-3.20, -0.96,-2.40, -0.90,-2.90, -0.84,-2.30, -0.78,-2.80, -0.72,-2.40, -0.66,-2.90, -0.60,-2.20, -0.54,-2.60, -0.48,-2.00, -0.42,-2.50, -0.36,-1.80, -0.30,-2.30, -0.24,-1.60, -0.18,-2.10, -0.12,-1.40, -0.06,-2.00, 0.00,-1.30, 0.06,-1.90, 0.12,-1.10, 0.18,-1.70, 0.24,-1.00, 0.30,-1.50, 0.36,-0.95, 0.42,-1.35, 0.48,-0.90, 0.55,-1.20, 0.62,-0.90, 0.70,-1.05, 0.78,-0.85, 0.86,-1.00, 0.94,-0.82, 1.02,-0.95, 1.10,-0.80, 1.18,-0.88, 1.26,-0.80, 1.33,-0.90, 1.39,-1.20, 1.44,-1.60, 1.49,-2.10, 1.54,-2.55, 1.59,-2.80, 1.65,-2.88, 1.70,-3.10];
const br_blue = [-3.10,2.11, -2.80,2.09, -2.48,2.08, -2.14,2.03, -1.80,1.95, -1.56,1.87, -1.42,1.76, -1.27,1.48, -1.13,0.93, -1.03,0.60, -0.93,0.11, -0.86,0.22, -0.79,0.16, -0.69,0.05, -0.64,-0.38, -0.57,-0.33, -0.50,-0.60, -0.40,-0.82, -0.33,-0.77, -0.26,-1.15, -0.16,-1.70, -0.06,-1.92, 0.03,-2.25, 0.08,-2.58, 0.15,-2.30, 0.23,-2.14, 0.30,-2.00, 0.38,-1.80, 0.45,-1.60, 0.52,-1.48, 0.65,-1.35, 0.80,-1.30, 1.00,-1.15, 1.19,-0.93, 1.30,-0.98, 1.43,-1.48, 1.53,-2.14, 1.60,-3.24, 1.68,-3.63, 1.70,-3.57];
const br_yellow = [-2.48,-1.79, -2.30,-1.95, -2.20,-2.10, -2.14,-2.60, -2.08,-2.30, -2.02,-3.20, -1.96,-2.50, -1.90,-3.00, -1.84,-2.20, -1.78,-3.40, -1.72,-2.60, -1.66,-4.30, -1.60,-2.70, -1.54,-3.10, -1.48,-2.30, -1.42,-3.30, -1.36,-2.60, -1.30,-3.70, -1.24,-2.50, -1.18,-3.00, -1.12,-2.30, -1.06,-4.45, -1.00,-2.50, -0.94,-3.10, -0.88,-2.30, -0.82,-2.90, -0.76,-2.20, -0.70,-3.30, -0.64,-2.40, -0.58,-2.80, -0.52,-2.10, -0.46,-2.60, -0.40,-1.90, -0.34,-2.40, -0.28,-1.70, -0.22,-2.20, -0.16,-1.50, -0.10,-2.10, -0.04,-1.40, 0.02,-1.90, 0.08,-1.20, 0.14,-1.80, 0.20,-1.10, 0.26,-1.60, 0.32,-1.00, 0.38,-1.45, 0.44,-0.95, 0.50,-1.30, 0.57,-0.92, 0.64,-1.15, 0.72,-0.88, 0.80,-1.05, 0.88,-0.85, 0.96,-0.98, 1.04,-0.82, 1.12,-0.92, 1.20,-0.80, 1.28,-0.85, 1.34,-0.95, 1.40,-1.30, 1.45,-1.75, 1.50,-2.20, 1.55,-2.60, 1.60,-2.80, 1.65,-2.85, 1.70,-2.90];
const br_brown = [-2.50,-1.21, -2.40,-1.35, -2.28,-1.48, -2.20,-1.80, -2.15,-2.40, -2.09,-2.00, -2.03,-2.90, -1.97,-2.30, -1.91,-2.70, -1.85,-2.10, -1.79,-3.10, -1.73,-2.40, -1.67,-2.90, -1.61,-2.20, -1.55,-3.30, -1.49,-2.50, -1.43,-2.80, -1.37,-2.20, -1.31,-3.00, -1.25,-2.40, -1.19,-2.90, -1.13,-2.30, -1.07,-3.20, -1.01,-2.50, -0.95,-2.80, -0.89,-2.20, -0.83,-3.00, -0.77,-2.40, -0.71,-2.70, -0.65,-2.10, -0.59,-2.60, -0.53,-2.00, -0.47,-2.50, -0.41,-1.80, -0.35,-2.30, -0.29,-1.60, -0.23,-2.10, -0.17,-1.50, -0.11,-2.00, -0.05,-1.30, 0.01,-1.90, 0.07,-1.20, 0.13,-1.70, 0.19,-1.10, 0.25,-1.55, 0.31,-1.00, 0.37,-1.40, 0.43,-0.95, 0.49,-1.30, 0.56,-0.90, 0.63,-1.10, 0.71,-0.88, 0.79,-1.02, 0.87,-0.85, 0.95,-0.98, 1.03,-0.84, 1.11,-0.92, 1.19,-0.82, 1.27,-0.88, 1.33,-0.95, 1.39,-1.25, 1.44,-1.70, 1.49,-2.15, 1.54,-2.55, 1.59,-2.78, 1.65,-2.85, 1.70,-2.95];
const br_lgrey = [-2.72,-0.49, -2.60,-0.70, -2.48,-0.93, -2.38,-1.20, -2.28,-1.50, -2.20,-1.90, -2.14,-2.50, -2.08,-2.10, -2.02,-2.80, -1.96,-2.20, -1.90,-3.00, -1.84,-2.40, -1.78,-2.90, -1.72,-2.20, -1.66,-3.20, -1.60,-2.50, -1.54,-2.90, -1.48,-2.30, -1.42,-3.10, -1.36,-2.40, -1.30,-2.80, -1.24,-2.20, -1.18,-3.00, -1.12,-2.50, -1.06,-2.90, -1.00,-2.30, -0.94,-2.70, -0.88,-2.20, -0.82,-2.80, -0.76,-2.30, -0.70,-2.60, -0.64,-2.00, -0.58,-2.50, -0.52,-1.90, -0.46,-2.40, -0.40,-1.80, -0.34,-2.20, -0.28,-1.60, -0.22,-2.00, -0.16,-1.45, -0.10,-1.90, -0.04,-1.30, 0.02,-1.80, 0.08,-1.15, 0.14,-1.65, 0.20,-1.05, 0.26,-1.50, 0.32,-1.00, 0.38,-1.40, 0.45,-0.92, 0.52,-1.25, 0.59,-0.90, 0.66,-1.10, 0.74,-0.86, 0.82,-1.00, 0.90,-0.84, 0.98,-0.96, 1.06,-0.82, 1.14,-0.90, 1.22,-0.80, 1.30,-0.88, 1.36,-1.00, 1.41,-1.40, 1.46,-1.85, 1.51,-2.30, 1.56,-2.65, 1.62,-2.80, 1.67,-2.88, 1.70,-2.90];
const br_purple = [-2.30,-2.30, -2.24,-2.60, -2.18,-2.20, -2.12,-2.90, -2.06,-2.40, -2.00,-3.20, -1.94,-2.50, -1.88,-2.90, -1.82,-2.20, -1.76,-3.30, -1.70,-2.50, -1.64,-3.00, -1.58,-2.30, -1.52,-3.50, -1.46,-2.60, -1.40,-4.20, -1.34,-2.50, -1.28,-3.10, -1.22,-2.40, -1.16,-3.40, -1.10,-2.50, -1.04,-3.00, -0.98,-2.30, -0.92,-3.20, -0.86,-2.40, -0.80,-2.90, -0.74,-2.30, -0.68,-2.80, -0.62,-2.20, -0.56,-2.70, -0.50,-2.00, -0.44,-2.50, -0.38,-1.40, -0.34,-2.20, -0.30,-1.60, -0.24,-2.10, -0.18,-1.50, -0.12,-2.10, -0.06,-1.40, 0.00,-2.00, 0.05,-3.90, 0.08,-1.30, 0.14,-1.80, 0.20,-1.15, 0.26,-1.65, 0.32,-1.05, 0.38,-1.50, 0.44,-0.98, 0.50,-1.35, 0.57,-0.95, 0.64,-1.18, 0.72,-0.90, 0.80,-1.08, 0.88,-0.87, 0.96,-1.00, 1.04,-0.85, 1.12,-0.95, 1.20,-0.83, 1.28,-0.90, 1.34,-1.00, 1.40,-1.35, 1.45,-1.80, 1.50,-2.25, 1.55,-2.62, 1.60,-2.80, 1.66,-2.90, 1.70,-2.95];
const br_cyan = [-2.48,-1.10, -2.40,-1.30, -2.30,-1.55, -2.22,-1.80, -2.16,-2.50, -2.10,-2.00, -2.04,-2.90, -1.98,-2.30, -1.92,-2.80, -1.86,-2.10, -1.80,-3.00, -1.74,-2.40, -1.68,-2.90, -1.62,-2.20, -1.56,-3.20, -1.50,-2.50, -1.44,-3.60, -1.38,-2.30, -1.32,-3.00, -1.26,-2.40, -1.20,-2.90, -1.14,-2.20, -1.08,-3.10, -1.02,-2.40, -0.96,-2.90, -0.90,-2.20, -0.84,-2.70, -0.78,-2.10, -0.72,-4.50, -0.66,-2.30, -0.60,-2.70, -0.54,-2.00, -0.48,-2.50, -0.42,-1.80, -0.36,-2.30, -0.30,-1.60, -0.24,-2.10, -0.18,-1.50, -0.12,-2.00, -0.06,-1.35, 0.00,-1.90, 0.06,-1.20, 0.12,-1.70, 0.18,-1.00, 0.24,-1.55, 0.30,-1.00, 0.36,-1.40, 0.42,-0.95, 0.48,-1.30, 0.55,-0.92, 0.62,-1.12, 0.70,-0.88, 0.78,-1.02, 0.86,-0.86, 0.94,-0.98, 1.02,-0.84, 1.10,-0.93, 1.18,-0.82, 1.26,-0.90, 1.33,-0.98, 1.39,-1.30, 1.44,-1.75, 1.49,-2.20, 1.54,-2.60, 1.59,-2.80, 1.65,-2.85, 1.70,-2.80];
const br_magenta = [-2.31,-2.53, -2.22,-2.20, -2.14,-2.70, -2.08,-2.30, -2.02,-2.60, -1.96,-2.20, -1.90,-2.80, -1.84,-2.30, -1.78,-2.90, -1.72,-2.40, -1.66,-2.70, -1.60,-2.30, -1.54,-2.90, -1.48,-2.40, -1.42,-2.80, -1.36,-2.20, -1.30,-3.00, -1.24,-2.40, -1.18,-2.70, -1.12,-2.20, -1.06,-2.90, -1.00,-2.30, -0.94,-2.70, -0.88,-2.20, -0.82,-2.80, -0.76,-2.30, -0.70,-2.60, -0.64,-2.10, -0.58,-2.50, -0.52,-1.70, -0.46,-2.30, -0.40,-1.20, -0.36,-1.70, -0.32,-1.10, -0.28,-2.00, -0.24,-1.40, -0.18,-2.10, -0.12,-1.30, -0.06,-1.90, 0.00,-1.10, 0.06,-1.80, 0.12,-1.00, 0.18,-1.60, 0.24,-0.95, 0.30,-1.45, 0.36,-0.90, 0.42,-1.30, 0.48,-0.88, 0.55,-1.20, 0.62,-0.86, 0.70,-1.05, 0.78,-0.82, 0.86,-0.98, 0.94,-0.80, 1.02,-0.92, 1.10,-0.78, 1.18,-0.88, 1.26,-0.80, 1.33,-0.92, 1.39,-1.25, 1.44,-1.70, 1.49,-2.15, 1.54,-2.55, 1.59,-2.75, 1.65,-2.82, 1.70,-2.20];

// which curve goes in which panel, indexed like SERIES
const TL_SETS = [ref_curve, ref_curve, tl_green, tl_blue, tl_yellow, tl_brown, tl_lgrey, null, tl_cyan, null];
const TR_SETS = [ref_curve, tr_red, tr_green, tr_blue, tr_yellow, tr_brown, tr_lgrey, tr_purple, tr_cyan, tr_magenta];
const BL_SETS = [ref_curve, bl_red, bl_green, bl_blue, bl_yellow, bl_brown, bl_lgrey, bl_purple, bl_cyan, bl_magenta];
const BR_SETS = [ref_curve, br_red, br_green, br_blue, br_yellow, br_brown, br_lgrey, br_purple, br_cyan, br_magenta];

const TITLE = 'Fourier transform of the random torque component: F[kx-Ia-f(v)](\u03c9)';

// ---- drawing helpers ----
const SERIF = '"Liberation Serif", "Times New Roman", serif';
const TICK_LEN = 17;

function pts(a) {
  const out = [];
  for (let i = 0; i < a.length; i += 2) {
    out.push({ x: Math.pow(10, a[i]), y: Math.pow(10, a[i + 1]) });
  }
  return out;
}

function text(ctx, s, x, y, size, o) {
  o = o || {};
  ctx.save();
  ctx.font = size + 'px ' + SERIF;
  ctx.fillStyle = o.color || '#000';
  ctx.textBaseline = 'alphabetic';
  const w = ctx.measureText(s).width;
  const sx = o.width ? o.width / w : (o.sx || 1);
  let left = x;
  if (o.align === 'center') left = x - w * sx / 2;
  else if (o.align === 'right') left = x - w * sx;
  ctx.translate(left, y);
  ctx.scale(sx, 1);
  ctx.fillText(s, 0, 0);
  ctx.restore();
  return w * sx;
}

function widthOf(ctx, s, size) {
  ctx.save();
  ctx.font = size + 'px ' + SERIF;
  const w = ctx.measureText(s).width;
  ctx.restore();
  return w;
}

// "10" with a raised exponent
function pow10(ctx, e, x, y, align) {
  const wb = widthOf(ctx, '10', 23) * 0.88;
  const we = widthOf(ctx, e, 14);
  const total = wb + 1 + we;
  const left = align === 'right' ? x - total : x - total / 2;
  text(ctx, '10', left, y, 23, { sx: 0.88 });
  text(ctx, e, left + wb + 1, y - 12, 14);
}

function drawDecor(ctx) {
  text(ctx, TITLE, 560, 36, 37, { align: 'center', width: 960 });

  // x axis title with superscript
  const w1 = widthOf(ctx, 'Frequency (s', 21), w2 = widthOf(ctx, '-1', 14), w3 = widthOf(ctx, ')', 21);
  const sx = 142 / (w1 + w2 + w3 + 1);
  let left = 481;
  text(ctx, 'Frequency (s', left, 787, 21, { sx: sx });
  left += w1 * sx;
  text(ctx, '-1', left + 1, 775, 14, { sx: sx });
  left += w2 * sx + 1;
  text(ctx, ')', left, 787, 21, { sx: sx });

  // legend box
  ctx.save();
  ctx.fillStyle = '#fff';
  ctx.fillRect(513, 60, 131, 263);
  ctx.strokeStyle = '#000';
  ctx.lineWidth = 1.2;
  ctx.strokeRect(513.5, 60.5, 131, 262);
  SERIES.forEach((s, i) => {
    const yc = i === 0 ? 79 : 106 + (i - 1) * 25;
    ctx.beginPath();
    ctx.strokeStyle = COLORS[i];
    ctx.lineWidth = i === 0 ? 4 : 1.3;
    ctx.moveTo(522, yc);
    ctx.lineTo(557, yc);
    ctx.stroke();
    text(ctx, s, 568, yc + 8, 22);
  });
  ctx.restore();
}

function makeFrame(cfg) {
  return {
    id: 'frame',
    afterDatasetsDraw(chart) {
      const ctx = chart.ctx, a = chart.chartArea;
      const xs = chart.scales.x, ys = chart.scales.y;
      ctx.save();
      ctx.strokeStyle = '#000';
      ctx.lineWidth = 1.2;
      ctx.beginPath();
      X_TICKS.forEach(v => {
        const p = Math.round(xs.getPixelForValue(v)) + 0.5;
        ctx.moveTo(p, a.top); ctx.lineTo(p, a.top + TICK_LEN);
        ctx.moveTo(p, a.bottom); ctx.lineTo(p, a.bottom - TICK_LEN);
      });
      Y_TICKS.forEach(v => {
        const p = Math.round(ys.getPixelForValue(v)) + 0.5;
        ctx.moveTo(a.left, p); ctx.lineTo(a.left + TICK_LEN, p);
        ctx.moveTo(a.right, p); ctx.lineTo(a.right - TICK_LEN, p);
      });
      ctx.stroke();
      ctx.lineWidth = 1.4;
      ctx.strokeRect(a.left, a.top, a.right - a.left, a.bottom - a.top);
      ctx.restore();

      if (cfg.xLabels) {
        X_LABELS.forEach(v => pow10(ctx, String(Math.round(Math.log10(v))), xs.getPixelForValue(v), a.bottom + 35, 'center'));
      }
      if (cfg.yLabels) {
        Y_TICKS.forEach(v => pow10(ctx, String(Math.round(Math.log10(v))), a.left - 9, ys.getPixelForValue(v) + 11, 'right'));
      }
      cfg.notes.forEach(n => text(ctx, n.t, n.x, n.y, n.size, n));
      if (cfg.decor) drawDecor(ctx);
    }
  };
}

function vline(f, color) {
  return {
    data: [{ x: f, y: MARK_SPAN[0] }, { x: f, y: MARK_SPAN[1] }],
    borderColor: color, borderWidth: 3, borderDash: [13, 8], clip: false
  };
}

function makePanel(id, box, sets, k, cfg) {
  const list = [];
  sets.forEach((arr, i) => {
    if (!arr) return;
    list.push({
      label: SERIES[i],
      data: pts(arr),
      borderColor: COLORS[i],
      borderWidth: i === 0 ? 5 : 1
    });
  });
  if (k === 0) {
    list.push({ data: pts(F2_LINE), borderColor: '#008b00', borderWidth: 4 });
  }
  list.push(vline(REV_FREQ[k], '#000'));
  list.push(vline(OSC_FREQ, '#ff0000'));
  WALL_FREQ[k].forEach(f => list.push(vline(f, '#0000ff')));
  // first in list is painted first (bottom)
  list.forEach((d, i) => { d.order = list.length - i; });

  return new Chart(document.getElementById(id), {
    type: 'line',
    data: { datasets: list },
    options: {
      responsive: false,
      animation: false,
      events: [],
      layout: { padding: { left: box[0], top: box[1], right: 1087 - box[2], bottom: 796 - box[3] } },
      elements: { point: { radius: 0 }, line: { tension: 0, fill: false } },
      scales: {
        x: { type: 'logarithmic', min: FREQ_MIN, max: FREQ_MAX, display: false },
        y: { type: 'logarithmic', min: AMP_MIN, max: AMP_MAX, display: false }
      },
      plugins: { legend: { display: false }, tooltip: { enabled: false } }
    },
    plugins: [makeFrame(cfg)]
  });
}

makePanel('cTL', [55, 59, 560, 392], TL_SETS, 0, {
  yLabels: true, xLabels: false, notes: [
    { t: '1 free osc.', x: 303, y: 89, size: 22, width: 93, color: '#ff0000' },
    { t: 'f', x: 348, y: 157, size: 22 },
    { t: '-2', x: 357, y: 144, size: 14 },
    { t: '1 rev', x: 197, y: 347, size: 22, width: 44 },
    { t: RATES[0], x: 73, y: 353, size: 22, width: 91 },
    { t: '1 particle', x: 404, y: 351, size: 22, align: 'center', width: 85, color: '#0000ff' },
    { t: '(inner & outer wall)', x: 406, y: 373, size: 22, align: 'center', width: 185, color: '#0000ff' }
  ]
});
makePanel('cTR', [560, 59, 1065, 392], TR_SETS, 1, {
  yLabels: false, xLabels: false, notes: [
    { t: RATES[1], x: 603, y: 358, size: 22, width: 80 }
  ]
});
makePanel('cBL', [55, 392, 560, 725], BL_SETS, 2, {
  yLabels: true, xLabels: true, notes: [
    { t: RATES[2], x: 83, y: 688, size: 22, width: 78 }
  ]
});
makePanel('cBR', [560, 392, 1065, 725], BR_SETS, 3, {
  yLabels: false, xLabels: true, decor: true, notes: [
    { t: RATES[3], x: 590, y: 684, size: 22, width: 72 }
  ]
});
</script>
</body>
</html>
